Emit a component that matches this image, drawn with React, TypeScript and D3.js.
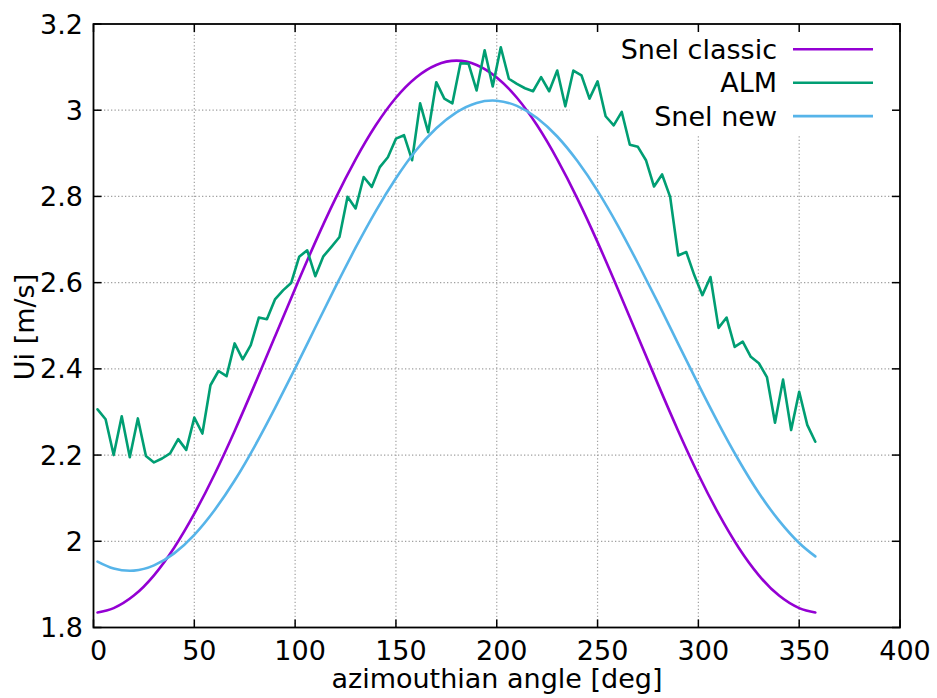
import React from "react";
import * as d3 from "d3";

const almAngles = [
  2, 6, 10, 14, 18, 22, 26, 30, 34, 38, 42, 46, 50, 54, 58, 62, 66, 70, 74, 78,
  82, 86, 90, 94, 98, 102, 106, 110, 114, 118, 122, 126, 130, 134, 138, 142, 146, 150, 154, 158,
  162, 166, 170, 174, 178, 182, 186, 190, 194, 198, 202, 206, 210, 214, 218, 222, 226, 230, 234, 238,
  242, 246, 250, 254, 258, 262, 266, 270, 274, 278, 282, 286, 290, 294, 298, 302, 306, 310, 314, 318,
  322, 326, 330, 334, 338, 342, 346, 350, 354, 358,
];
const almValues = [
  2.306, 2.283, 2.2, 2.29, 2.195, 2.285, 2.198, 2.183, 2.192, 2.204,
  2.237, 2.212, 2.287, 2.25, 2.362, 2.395, 2.383, 2.459, 2.422, 2.455,
  2.519, 2.515, 2.561, 2.582, 2.599, 2.66, 2.675, 2.615, 2.661, 2.683,
  2.706, 2.799, 2.772, 2.845, 2.822, 2.868, 2.891, 2.934, 2.942, 2.884,
  3.016, 2.949, 3.065, 3.027, 3.016, 3.109, 3.108, 3.046, 3.139, 3.055,
  3.146, 3.073, 3.061, 3.051, 3.044, 3.077, 3.044, 3.092, 3.009, 3.092,
  3.081, 3.027, 3.067, 2.986, 2.965, 2.996, 2.92, 2.915, 2.884, 2.823,
  2.851, 2.799, 2.663, 2.671, 2.617, 2.571, 2.613, 2.495, 2.519, 2.451,
  2.463, 2.428, 2.413, 2.381, 2.275, 2.375, 2.258, 2.347, 2.27, 2.231,
];

const snelAngles = [
  2, 10, 20, 30, 40, 50, 60, 70, 80, 90, 100, 110, 120, 130, 140, 150, 160, 170, 180,
  190, 200, 210, 220, 230, 240, 250, 260, 270, 280, 290, 300, 310, 320, 330, 340, 350, 358,
];
const snelClassic = [
  1.835, 1.845, 1.874, 1.921, 1.985, 2.064, 2.155, 2.256, 2.364, 2.475, 2.586, 2.694, 2.795,
  2.886, 2.965, 3.029, 3.076, 3.105, 3.115, 3.105, 3.076, 3.029, 2.965, 2.886, 2.795, 2.694,
  2.586, 2.475, 2.364, 2.256, 2.155, 2.064, 1.985, 1.921, 1.874, 1.845, 1.835,
];
const snelNew = [
  1.953, 1.937, 1.932, 1.944, 1.972, 2.015, 2.072, 2.141, 2.221, 2.309, 2.401, 2.496, 2.59,
  2.681, 2.766, 2.842, 2.907, 2.958, 2.995, 3.017, 3.022, 3.01, 2.982, 2.939, 2.882, 2.813,
  2.733, 2.645, 2.553, 2.458, 2.364, 2.273, 2.188, 2.112, 2.048, 1.996, 1.965,
];

const xTicks = [0, 50, 100, 150, 200, 250, 300, 350, 400];
const yTicks = [1.8, 2, 2.2, 2.4, 2.6, 2.8, 3, 3.2];
const seriesNames = ["Snel classic", "ALM", "Snel new"];
const seriesColors = ["#9400d3", "#009e73", "#56b4e9"];

const W = 937;
const H = 698;
const L = 93.5;
const R = 900;
const T = 24;
const B = 627.5;
const FONT = "'DejaVu Sans', sans-serif";
const FS = 27;

export default function App() {
  const x = d3.scaleLinear().domain([0, 400]).range([L, R]);
  const y = d3.scaleLinear().domain([1.8, 3.2]).range([B, T]);

  const linear = d3
    .line<[number, number]>()
    .x((d) => x(d[0]))
    .y((d) => y(d[1]));
  const smooth = d3
    .line<[number, number]>()
    .x((d) => x(d[0]))
    .y((d) => y(d[1]))
    .curve(d3.curveNatural);

  const classicPts: [number, number][] = snelAngles.map((a, i) => [a, snelClassic[i]]);
  const newPts: [number, number][] = snelAngles.map((a, i) => [a, snelNew[i]]);
  const almPts: [number, number][] = almAngles.map((a, i) => [a, almValues[i]]);

  const paths = [smooth(classicPts), linear(almPts), smooth(newPts)];
  const tick = 8;

  return (
    <svg
      width={W}
      height={H}
      style={{ position: "absolute", left: 0, top: 0, background: "#fff" }}
      fontFamily={FONT}
    >
      <rect x={0} y={0} width={W} height={H} fill="#fff" />
      {/* grid */}
      <g stroke="#a0a0a0" strokeWidth={1.2} strokeDasharray="1.3,2.2">
        {xTicks
          .filter((t) => t > 0 && t < 400)
          .map((t) => (
            <line key={"gx" + t} x1={x(t)} x2={x(t)} y1={B} y2={T} />
          ))}
        {yTicks
          .filter((t) => t > 1.8 && t < 3.2)
          .map((t) => (
            <line key={"gy" + t} x1={L} x2={R} y1={y(t)} y2={y(t)} />
          ))}
      </g>
      {/* opaque key box */}
      <rect x={570} y={T + 1} width={R - 571} height={135 - T - 1} fill="#fff" />
      {/* data */}
      {paths.map((p, i) => (
        <path
          key={"s" + i}
          d={p || ""}
          fill="none"
          stroke={seriesColors[i]}
          strokeWidth={2.6}
          strokeLinejoin="round"
          strokeLinecap="round"
        />
      ))}
      {/* frame */}
      <rect x={L} y={T} width={R - L} height={B - T} fill="none" stroke="#000" strokeWidth={1.8} />
      {/* ticks */}
      <g stroke="#000" strokeWidth={1.5}>
        {xTicks.map((t) => (
          <g key={"tx" + t}>
            <line x1={x(t)} x2={x(t)} y1={B} y2={B - tick} />
            <line x1={x(t)} x2={x(t)} y1={T} y2={T + tick} />
          </g>
        ))}
        {yTicks.map((t) => (
          <g key={"ty" + t}>
            <line x1={L} x2={L + tick} y1={y(t)} y2={y(t)} />
            <line x1={R} x2={R - tick} y1={y(t)} y2={y(t)} />
          </g>
        ))}
      </g>
      {/* tick labels */}
      <g fontSize={FS} fill="#000">
        {xTicks.map((t) => (
          <text key={"lx" + t} x={x(t) + 5} y={650} textAnchor="middle" dominantBaseline="central">
            {String(t)}
          </text>
        ))}
        {yTicks.map((t) => (
          <text key={"ly" + t} x={83} y={y(t)} textAnchor="end" dominantBaseline="central">
            {d3.format("")(t)}
          </text>
        ))}
      </g>
      {/* axis titles */}
      <text x={497} y={688} fontSize={FS} textAnchor="middle" fill="#000">
        azimouthian angle [deg]
      </text>
      <text
        transform={`translate(34,327) rotate(-90)`}
        fontSize={FS}
        textAnchor="middle"
        fill="#000"
      >
        Ui [m/s]
      </text>
      {/* legend */}
      {seriesNames.map((n, i) => {
        const ly = 49.3 + i * 33.4;
        return (
          <g key={"lg" + i}>
            <text x={777} y={ly} fontSize={FS} textAnchor="end" dominantBaseline="central" fill="#000">
              {n}
            </text>
            <line x1={793} x2={873} y1={ly} y2={ly} stroke={seriesColors[i]} strokeWidth={2.6} />
          </g>
        );
      })}
    </svg>
  );
}
